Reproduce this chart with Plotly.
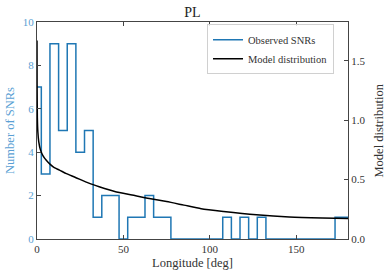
import plotly.graph_objects as go

# Histogram of observed SNRs (bin edges in deg, counts per bin)
bin_edges = [-2.5, 2.5, 7.5, 12.5, 17.5, 22.5, 27.5, 32.5, 37.5, 42.5, 47.5,
             52.5, 57.5, 62.5, 67.5, 72.5, 77.5, 107.5, 112.5, 117.5, 122.5,
             127.5, 132.5, 172.5, 177.5, 182.5]
counts = [7, 3, 9, 5, 9, 4, 5, 1, 2, 2, 0,
          1, 1, 2, 1, 1, 0, 1, 0, 1, 0,
          1, 0, 1, 1]

# Model distribution curve
model_lon = [0.0, 0.05, 0.2, 0.5, 1, 2, 3.5, 5.5, 7.5, 10, 13, 17, 22, 30,
             36, 45, 55, 65, 75, 85, 95, 108, 127, 146, 165, 180]
model_val = [1.67, 1.3, 1.02, 0.9, 0.82, 0.75, 0.70, 0.66, 0.63, 0.60, 0.58,
             0.55, 0.52, 0.47, 0.44, 0.40, 0.37, 0.34, 0.315, 0.285, 0.255,
             0.232, 0.204, 0.185, 0.176, 0.172]

x_ticks = [0, 50, 100, 150]
y_ticks = [0, 2, 4, 6, 8, 10]
y2_ticks = [0.0, 0.5, 1.0, 1.5]

BLUE = "#1f77b4"
BLUE_TXT = "#5a9fd4"
FONT = "Liberation Serif, Times New Roman, serif"
TXT = "#333333"

step_x = [bin_edges[0]] + bin_edges
step_y = [0] + counts + [0]

fig = go.Figure()
fig.add_trace(go.Scatter(x=step_x, y=step_y, mode="lines", line_shape="hv",
                         line=dict(color=BLUE, width=1.5), name="Observed SNRs",
                         yaxis="y"))
fig.add_trace(go.Scatter(x=model_lon, y=model_val, mode="lines",
                         line=dict(color="black", width=1.5, shape="spline", smoothing=0.6),
                         name="Model distribution", yaxis="y2"))

axis_line = "#444444"
fig.update_layout(
    width=390, height=278,
    margin=dict(l=37, r=42, t=22, b=39, autoexpand=False),
    paper_bgcolor="white", plot_bgcolor="white",
    font=dict(family=FONT, size=11, color=TXT),
    title=dict(text="PL", x=0.5, xref="paper", y=0.957, yanchor="middle",
               font=dict(family=FONT, size=14, color="#222222")),
    xaxis=dict(range=[0, 180], tickvals=x_ticks, ticks="inside", ticklen=4,
               tickcolor=axis_line, showline=True, linecolor=axis_line, linewidth=1.2,
               mirror="ticks", showgrid=False, zeroline=False, automargin=False,
               title=dict(text="Longitude [deg]", standoff=3,
                          font=dict(family=FONT, size=12.5, color=TXT)),
               tickfont=dict(family=FONT, size=11, color=TXT)),
    yaxis=dict(range=[0, 10], tickvals=y_ticks, ticks="inside", ticklen=4,
               tickcolor=axis_line, showline=True, linecolor=axis_line, linewidth=1.2,
               showgrid=False, zeroline=False, automargin=False,
               title=dict(text="Number of SNRs", standoff=5,
                          font=dict(family=FONT, size=12.5, color=BLUE_TXT)),
               tickfont=dict(family=FONT, size=11, color=BLUE_TXT)),
    yaxis2=dict(range=[0, 1.826], tickvals=y2_ticks, ticktext=["0.0", "0.5", "1.0", "1.5"],
                overlaying="y", side="right", ticks="inside", ticklen=4,
                tickcolor=axis_line, showline=True, linecolor=axis_line, linewidth=1.2,
                showgrid=False, zeroline=False, automargin=False,
                tickfont=dict(family=FONT, size=11, color=TXT)),
    legend=dict(x=0.955, y=0.99, xanchor="right", yanchor="top",
                bgcolor="rgba(255,255,255,0.85)", bordercolor="#d0d0d0", borderwidth=1,
                font=dict(family=FONT, size=10.5, color=TXT),
                tracegroupgap=0, itemwidth=30),
    showlegend=True,
    annotations=[dict(text="Model distribution", textangle=-90, xref="paper", yref="paper",
                      x=1, y=0.5, xanchor="center", yanchor="middle", xshift=30,
                      showarrow=False, font=dict(family=FONT, size=12.5, color=TXT))],
)

fig.write_html("out.html", config={"displayModeBar": False},
               post_script="document.body.style.margin='0';document.body.style.overflow='hidden';")
